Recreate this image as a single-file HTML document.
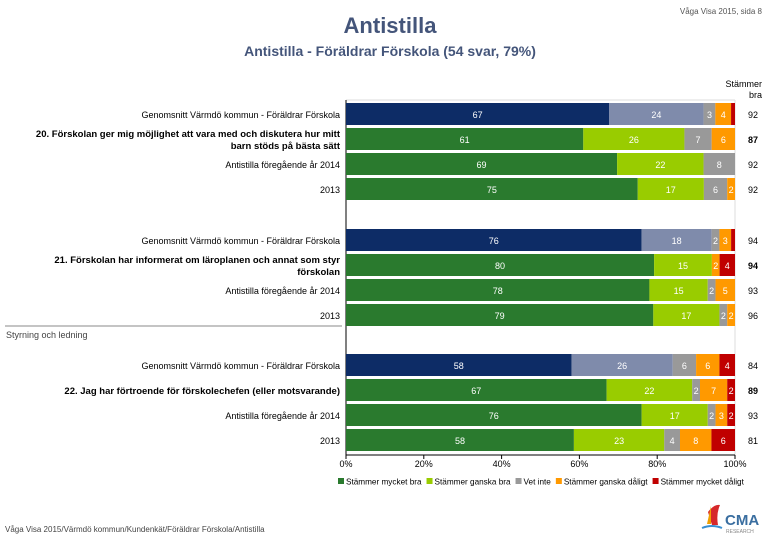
<!DOCTYPE html>
<html><head><meta charset="utf-8"><style>
html,body{margin:0;padding:0;background:#fff;}
svg{display:block;font-family:"Liberation Sans",Arial,sans-serif;}
</style></head><body>
<svg id="chart" width="780" height="540" viewBox="0 0 780 540">
<text x="762" y="14" font-size="8" fill="#555" text-anchor="end">Våga Visa 2015, sida 8</text>
<text x="390" y="33" font-size="22" font-weight="bold" fill="#44557a" text-anchor="middle">Antistilla</text>
<text x="390" y="56" font-size="14" font-weight="bold" fill="#44557a" text-anchor="middle">Antistilla - Föräldrar Förskola (54 svar, 79%)</text>
<text x="762" y="87" font-size="9" fill="#000" text-anchor="end">Stämmer</text>
<text x="762" y="98" font-size="9" fill="#000" text-anchor="end">bra</text>
<line x1="346" y1="100" x2="735" y2="100" stroke="#ddd"/>
<line x1="735" y1="100" x2="735" y2="455" stroke="#ddd"/>
<line x1="346" y1="100" x2="346" y2="455" stroke="#000"/>
<line x1="346" y1="455" x2="735" y2="455" stroke="#000"/>
<line x1="5" y1="326" x2="342" y2="326" stroke="#888"/>
<text x="6" y="338" font-size="9" fill="#444">Styrning och ledning</text>
<text x="5" y="532" font-size="8" fill="#444">Våga Visa 2015/Värmdö kommun/Kundenkät/Föräldrar Förskola/Antistilla</text>
<g>
<path d="M712 525 L708 512 Q714 504 720 505 Q716 514 718 525 Z" fill="#d6282a"/>
<path d="M707 524 L711 506 L711 524 Z" fill="#f0a000"/>
<path d="M702 528 Q712 524 722 528" stroke="#3a8fd0" stroke-width="2" fill="none"/>
<text x="725" y="525" font-size="15" font-weight="bold" fill="#3a6ea0">CMA</text>
<text x="726" y="533" font-size="5" fill="#888">RESEARCH</text>
</g>
<g id="bars"></g>
</svg>
<script>
const categories = [
"Genomsnitt Värmdö kommun - Föräldrar Förskola",
"20. Förskolan ger mig möjlighet att vara med och diskutera hur mitt|barn stöds på bästa sätt",
"Antistilla föregående år 2014","2013",
"Genomsnitt Värmdö kommun - Föräldrar Förskola",
"21. Förskolan har informerat om läroplanen och annat som styr|förskolan",
"Antistilla föregående år 2014","2013",
"Genomsnitt Värmdö kommun - Föräldrar Förskola",
"22. Jag har förtroende för förskolechefen (eller motsvarande)",
"Antistilla föregående år 2014","2013"];
const isAverage = [1,0,0,0,1,0,0,0,1,0,0,0];
const isQuestion = [0,1,0,0,0,1,0,0,0,1,0,0];
const veryGood = [67,61,69,75,76,80,78,79,58,67,76,58];
const fairlyGood = [24,26,22,17,18,15,15,17,26,22,17,23];
const neutral = [3,7,8,6,2,0,2,2,6,2,2,4];
const fairlyBad = [4,6,0,2,3,2,5,2,6,7,3,8];
const veryBad = [1,0,0,0,1,4,0,0,4,2,2,6];
const agreeTotals = [92,87,92,92,94,94,93,96,84,89,93,81];
const xTicks = [0,20,40,60,80,100];
const legendLabels = ["Stämmer mycket bra","Stämmer ganska bra","Vet inte","Stämmer ganska dåligt","Stämmer mycket dåligt"];
const rowCenters = [114,139,164,189,240,265,290,315,365,390,415,440];

const NS="http://www.w3.org/2000/svg";
const X0=346,X1=735;
const xs=v=>X0+(X1-X0)*v/100;
const colors=["#2a7a2e","#99cc00","#999999","#ff9900","#c00000"];
const avgColors=["#0d2c66","#7f8bab","#999999","#ff9900","#c00000"];
const g=document.getElementById('bars');
function el(t,a){const e=document.createElementNS(NS,t);for(const k in a)e.setAttribute(k,a[k]);return e;}
const series=[veryGood,fairlyGood,neutral,fairlyBad,veryBad];
categories.forEach((c,i)=>{
  const cy=rowCenters[i];
  const vals=series.map(s=>s[i]);
  const sum=vals.reduce((a,b)=>a+b,0);
  let acc=0;
  vals.forEach((v,k)=>{
    const x=xs(acc/sum*100), w=xs((acc+v)/sum*100)-x;
    const r=el('rect',{x:x,y:cy-11,width:Math.max(w,0),height:22,fill:(isAverage[i]?avgColors:colors)[k]});
    
    
    g.appendChild(r);
    if(v>0 && w>7){
      const t=el('text',{x:x+w/2,y:cy+4,'font-size':9,fill:'#fff','text-anchor':'middle'});
      t.textContent=v;
      
      
      g.appendChild(t);
    }
    acc+=v;
  });
  const tt=el('text',{x:748,y:cy+4,'font-size':9,fill:'#000','font-weight':isQuestion[i]?'bold':'normal'});
  tt.textContent=agreeTotals[i];
  
  
  g.appendChild(tt);
  const lines=c.split('|');
  lines.forEach((ln,j)=>{
    const ty=lines.length>1?cy-2+j*12:cy+4;
    const lt=el('text',{x:340,y:ty,'font-size':isQuestion[i]?9.5:9,fill:'#000','text-anchor':'end','font-weight':isQuestion[i]?'bold':'normal'});
    lt.textContent=ln;
    
    
    g.appendChild(lt);
  });
});
xTicks.forEach(v=>{
  const tk=el('line',{x1:xs(v),y1:455,x2:xs(v),y2:459,stroke:'#000'});
  
  
  g.appendChild(tk);
  const t=el('text',{x:xs(v),y:467,'font-size':9,fill:'#000','text-anchor':'middle'});
  t.textContent=v+'%';
  
  
  g.appendChild(t);
});
let lx=338;
legendLabels.forEach((l,k)=>{
  const s=el('rect',{x:lx,y:478,width:6,height:6,fill:colors[k]});
  
  
  g.appendChild(s);
  const t=el('text',{x:lx+8,y:484.5,'font-size':8.2,fill:'#000'});
  t.textContent=l;
  
  
  g.appendChild(t);
  lx+=8+t.getComputedTextLength()+5;
});
</script>
</body></html>
